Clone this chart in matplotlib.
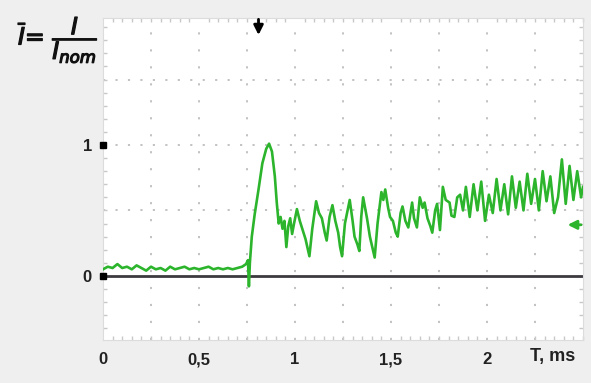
import numpy as np
import matplotlib
matplotlib.use("Agg")
import matplotlib.pyplot as plt
import matplotlib.patheffects as pe
from matplotlib.ticker import MultipleLocator

# current trace, relative to nominal, versus time in ms
t_ms = [0.0, 0.025, 0.05, 0.075, 0.1, 0.125, 0.15, 0.175, 0.2, 0.225,
        0.25, 0.275, 0.3, 0.325, 0.35, 0.375, 0.4, 0.425, 0.45, 0.475,
        0.5, 0.525, 0.55, 0.575, 0.6, 0.625, 0.65, 0.675, 0.7, 0.725,
        0.745, 0.755, 0.76, 0.765, 0.775, 0.79, 0.81, 0.83, 0.85, 0.865,
        0.88, 0.895, 0.905, 0.915, 0.925, 0.935, 0.945, 0.955, 0.965, 0.975,
        0.985, 0.995, 1.01, 1.025, 1.04, 1.055, 1.075, 1.09, 1.11, 1.125,
        1.14, 1.155, 1.165, 1.18, 1.195, 1.21, 1.225, 1.235, 1.245, 1.26,
        1.285, 1.3, 1.31, 1.325, 1.335, 1.345, 1.355, 1.375, 1.39, 1.415,
        1.43, 1.45, 1.46, 1.47, 1.485, 1.495, 1.51, 1.525, 1.535, 1.55,
        1.56, 1.575, 1.59, 1.61, 1.62, 1.635, 1.65, 1.665, 1.675, 1.69,
        1.705, 1.715, 1.73, 1.74, 1.755, 1.77, 1.785, 1.805, 1.815, 1.83,
        1.845, 1.86, 1.875, 1.89, 1.91, 1.93, 1.95, 1.97, 1.99, 2.01,
        2.03, 2.05, 2.07, 2.09, 2.11, 2.13, 2.15, 2.17, 2.19, 2.21,
        2.23, 2.25, 2.27, 2.29, 2.31, 2.33, 2.35, 2.37, 2.39, 2.41,
        2.43, 2.45, 2.47, 2.49, 2.5]
level = [0.05, 0.07, 0.06, 0.09, 0.06, 0.07, 0.05, 0.08, 0.06, 0.04,
         0.07, 0.05, 0.06, 0.04, 0.07, 0.05, 0.06, 0.07, 0.05, 0.06,
         0.05, 0.06, 0.07, 0.05, 0.06, 0.05, 0.06, 0.05, 0.06, 0.07,
         0.09, 0.12, -0.08, 0.10, 0.30, 0.47, 0.66, 0.86, 0.97, 1.01,
         0.95, 0.76, 0.56, 0.40, 0.45, 0.36, 0.42, 0.22, 0.38, 0.44,
         0.32, 0.40, 0.51, 0.42, 0.35, 0.28, 0.15, 0.36, 0.57, 0.48,
         0.44, 0.33, 0.27, 0.45, 0.54, 0.42, 0.33, 0.22, 0.15, 0.40,
         0.58, 0.42, 0.30, 0.24, 0.19, 0.45, 0.60, 0.44, 0.30, 0.14,
         0.40, 0.64, 0.58, 0.66, 0.52, 0.45, 0.42, 0.33, 0.30, 0.48,
         0.53, 0.42, 0.37, 0.56, 0.44, 0.37, 0.60, 0.52, 0.56, 0.44,
         0.38, 0.33, 0.50, 0.55, 0.35, 0.68, 0.58, 0.56, 0.46, 0.45,
         0.60, 0.62, 0.50, 0.68, 0.45, 0.70, 0.50, 0.72, 0.42, 0.62,
         0.48, 0.74, 0.50, 0.70, 0.47, 0.76, 0.52, 0.72, 0.50, 0.78,
         0.55, 0.74, 0.50, 0.80, 0.57, 0.76, 0.48, 0.60, 0.89, 0.55,
         0.84, 0.58, 0.80, 0.60, 0.68]

x_ticks = [0, 0.5, 1, 1.5, 2]
x_labels = ["0", "0,5", "1", "1,5", "2"]
y_ticks = [0, 1]
y_labels = ["0", "1"]

bg = "#efefef"
green = "#2cb52c"

fig = plt.figure(figsize=(5.91, 3.83), dpi=100, facecolor=bg)
ax = fig.add_axes([103 / 591, 43 / 383, 480 / 591, 322 / 383])
ax.set_facecolor("white")
ax.set_xlim(0, 2.5)
ax.set_ylim(-0.49, 1.97)

# dotted scope grid
for gx in np.arange(0.25, 2.5, 0.25):
    ax.axvline(gx, color="#bdbdbd", lw=1.3, ls=(0, (1.2, 8.2)), zorder=1)
for gy in [0.5, 1.0, 1.5]:
    ax.axhline(gy, color="#bdbdbd", lw=1.3, ls=(0, (1.2, 5.7)), zorder=1)
ax.axhline(0, color="#3c3a3e", lw=2.0, zorder=2)

ax.plot(t_ms, level, color=green, lw=1.9, zorder=3)

ax.set_xticks(x_ticks)
ax.set_xticklabels(x_labels)
ax.set_yticks(y_ticks)
ax.set_yticklabels(y_labels)
ax.xaxis.set_minor_locator(MultipleLocator(0.05))
ax.yaxis.set_minor_locator(MultipleLocator(0.1))
ax.tick_params(axis="x", which="major", length=0, pad=9, labelsize=12,
               labelcolor="#222222")
ax.tick_params(axis="y", which="major", length=0, pad=8, labelsize=12,
               labelcolor="#222222")
ax.tick_params(which="minor", direction="in", length=3, width=1,
               color="#c8c8c8", top=True, bottom=True, left=True, right=True)
for lab in ax.get_xticklabels() + ax.get_yticklabels():
    lab.set_fontweight("bold")
    lab.set_family("Liberation Sans")
for sp in ax.spines.values():
    sp.set_color("#dcdcdc")

# level marks on the left edge
ax.plot([0] * len(y_ticks), y_ticks, "s", color="black", ms=4,
        clip_on=False, zorder=5)

# markers at top (trigger) and right (level)
ax.annotate("", xy=(0.81, 1.84), xytext=(0.81, 1.96),
            arrowprops=dict(arrowstyle="-|>", color="black", lw=2.0,
                            mutation_scale=14, shrinkA=0, shrinkB=0))
ax.annotate("", xy=(2.42, 0.39), xytext=(2.49, 0.39),
            arrowprops=dict(arrowstyle="-|>", color=green, lw=2.0,
                            mutation_scale=13, shrinkA=0, shrinkB=0))

fig.text(530 / 591, 1 - 357 / 383, "T, ms", fontsize=13, fontweight="bold",
         family="Liberation Sans", color="#222222", va="center", ha="left")
fig.text(18 / 591, 1 - 40 / 383,
         r"$\overline{\mathit{I}}$= $\dfrac{\mathit{I}}{\mathit{I}_{\mathit{nom}}}$",
         fontsize=17, color="#111111", va="center", ha="left",
         path_effects=[pe.withStroke(linewidth=0.9, foreground="#111111")])

fig.savefig("out.png", dpi=100, facecolor=bg)
